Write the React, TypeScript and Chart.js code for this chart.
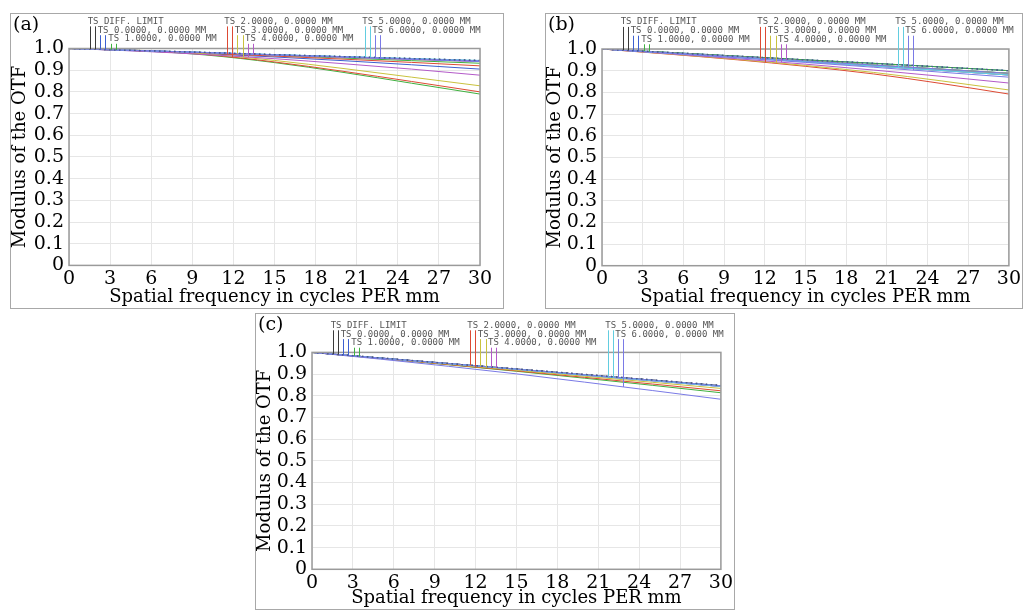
import React, { useEffect, useRef } from "react";
import { Chart, registerables } from "chart.js";

Chart.register(...registerables);

// ---------- data ----------
const FREQS = [0, 5, 10, 15, 20, 25, 30];

const FIELD_LABELS = [
  "TS DIFF. LIMIT",
  "TS 0.0000, 0.0000 MM",
  "TS 1.0000, 0.0000 MM",
  "TS 2.0000, 0.0000 MM",
  "TS 3.0000, 0.0000 MM",
  "TS 4.0000, 0.0000 MM",
  "TS 5.0000, 0.0000 MM",
  "TS 6.0000, 0.0000 MM",
];

const FIELD_COLORS = [
  "#3a3a3a",
  "#3c5fd0",
  "#3fb03f",
  "#dd4a34",
  "#c9c23e",
  "#b35ac8",
  "#62cde0",
  "#7a7ae6",
];

// panel (a) curves (MTF values at FREQS)
const A_945 = [1, 0.991, 0.982, 0.972, 0.963, 0.954, 0.945];
const A_943 = [1, 0.991, 0.981, 0.971, 0.962, 0.952, 0.943];
const A_940 = [1, 0.991, 0.981, 0.970, 0.960, 0.950, 0.940];
const A_932 = [1, 0.990, 0.979, 0.968, 0.956, 0.944, 0.932];
const A_920 = [1, 0.990, 0.978, 0.965, 0.951, 0.936, 0.920];
const A_905 = [1, 0.989, 0.976, 0.961, 0.944, 0.925, 0.905];
const A_877 = [1, 0.988, 0.972, 0.953, 0.930, 0.905, 0.877];
const A_828 = [1, 0.992, 0.975, 0.945, 0.908, 0.868, 0.828];
const A_800 = [1, 0.991, 0.972, 0.938, 0.895, 0.848, 0.800];
const A_790 = [1, 0.990, 0.970, 0.935, 0.890, 0.840, 0.790];

// panel (b) curves
const B_900 = [1, 0.984, 0.967, 0.950, 0.934, 0.917, 0.900];
const B_888 = [1, 0.982, 0.964, 0.945, 0.926, 0.907, 0.888];
const B_880 = [1, 0.981, 0.962, 0.942, 0.922, 0.901, 0.880];
const B_870 = [1, 0.980, 0.959, 0.938, 0.916, 0.893, 0.870];
const B_843 = [1, 0.978, 0.955, 0.930, 0.903, 0.874, 0.843];
const B_811 = [1, 0.977, 0.952, 0.924, 0.892, 0.853, 0.811];
const B_792 = [1, 0.976, 0.950, 0.920, 0.885, 0.841, 0.792];

// panel (c) curves
const C_848 = [1, 0.975, 0.949, 0.924, 0.899, 0.873, 0.848];
const C_846 = [1, 0.974, 0.949, 0.923, 0.897, 0.872, 0.846];
const C_843 = [1, 0.974, 0.948, 0.922, 0.895, 0.869, 0.843];
const C_834 = [1, 0.973, 0.946, 0.918, 0.890, 0.862, 0.834];
const C_823 = [1, 0.972, 0.944, 0.915, 0.885, 0.854, 0.823];
const C_814 = [1, 0.972, 0.943, 0.913, 0.881, 0.848, 0.814];
const C_784 = [1, 0.969, 0.936, 0.901, 0.863, 0.824, 0.784];

// tangential / sagittal per field (diff, 0..6)
const A_T = [A_945, A_943, A_932, A_920, A_940, A_877, A_945, A_943];
const A_S = [A_945, A_905, A_790, A_800, A_828, A_940, A_943, A_940];
const B_T = [B_900, B_888, B_900, B_880, B_888, B_843, B_880, B_888];
const B_S = [B_900, B_900, B_888, B_792, B_811, B_880, B_880, B_870];
const C_T = [C_848, C_846, C_846, C_846, C_846, C_846, C_846, C_846];
const C_S = [C_848, C_843, C_814, C_823, C_834, C_843, C_843, C_784];

const PANEL_LETTERS = ["(a)", "(b)", "(c)"];
const X_TITLE = "Spatial frequency in cycles PER mm";
const Y_TITLE = "Modulus of the OTF";

// ---------- layout ----------
const SERIF = "'DejaVu Serif', serif";
const MONO = "'DejaVu Sans Mono', monospace";

type Box = { left: number; top: number; right: number; bottom: number };

const LABEL_SLOTS = [
  { dx: 18.7, row: 0 },
  { dx: 28.7, row: 1 },
  { dx: 39.3, row: 2 },
  { dx: 155.3, row: 0 },
  { dx: 165.8, row: 1 },
  { dx: 176.0, row: 2 },
  { dx: 293.3, row: 0 },
  { dx: 303.3, row: 1 },
];
const ROW_BASELINE = [-24.6, -15.8, -7.2];

function interp(arr: number[], f: number) {
  if (f <= FREQS[0]) return arr[0];
  for (let k = 1; k < FREQS.length; k++) {
    if (f <= FREQS[k]) {
      const t = (f - FREQS[k - 1]) / (FREQS[k] - FREQS[k - 1]);
      return arr[k - 1] + t * (arr[k] - arr[k - 1]);
    }
  }
  return arr[arr.length - 1];
}

function Panel(props: {
  box: Box;
  plot: Box;
  letter: string;
  T: number[][];
  S: number[][];
}) {
  const ref = useRef<HTMLCanvasElement | null>(null);
  const { box, plot, letter, T, S } = props;
  const W = box.right - box.left;
  const H = box.bottom - box.top;

  useEffect(() => {
    const canvas = ref.current;
    if (!canvas) return;
    const padTop = plot.top - box.top;
    const padRight = box.right - plot.right;
    const yW = plot.left - box.left;
    const xH = box.bottom - plot.bottom;

    const datasets: any[] = [];
    for (let i = FIELD_LABELS.length - 1; i >= 0; i--) {
      [T[i], S[i]].forEach((arr, j) => {
        const isDiff = i === 0;
        datasets.push({
          label: FIELD_LABELS[i] + (j ? " S" : " T"),
          data: FREQS.map((f, k) => ({ x: f, y: arr[k] })),
          borderColor: isDiff ? "#4a5a8a" : FIELD_COLORS[i],
          backgroundColor: FIELD_COLORS[i],
          borderWidth: isDiff ? 1.3 : 1,
          borderDash: isDiff ? [1.5, 3.5] : [],
          order: isDiff ? -1 : 0,
          pointRadius: 0,
          cubicInterpolationMode: "monotone",
          fill: false,
        });
      });
    }

    const framePlugin = {
      id: "frame",
      beforeDraw(chart: any) {
        const c = chart.ctx;
        c.save();
        c.fillStyle = "#fff";
        c.fillRect(0, 0, chart.width, chart.height);
        c.strokeStyle = "#a8a8a8";
        c.lineWidth = 1;
        c.strokeRect(0.5, 0.5, chart.width - 1, chart.height - 1);
        c.restore();
      },
      afterDraw(chart: any) {
        const c = chart.ctx;
        const a = chart.chartArea;
        const xs = chart.scales.x;
        const ys = chart.scales.y;
        c.save();
        c.strokeStyle = "#9a9a9a";
        c.lineWidth = 1.5;
        c.strokeRect(a.left, a.top, a.right - a.left, a.bottom - a.top);
        // panel letter
        c.fillStyle = "#000";
        c.font = "19px " + SERIF;
        c.textBaseline = "alphabetic";
        c.textAlign = "left";
        c.fillText(letter, 3, 17);
        // field labels + markers
        c.font = "9px " + MONO;
        LABEL_SLOTS.forEach((slot, i) => {
          const lx = a.left + slot.dx;
          const by = a.top + ROW_BASELINE[slot.row];
          c.fillStyle = "#555";
          c.fillText(FIELD_LABELS[i], lx, by);
          [T[i], S[i]].forEach((arr, j) => {
            const px = Math.round(lx + 2.5 + j * 5.2) + 0.5;
            const f = xs.getValueForPixel(px);
            const py = ys.getPixelForValue(interp(arr, f));
            c.strokeStyle = FIELD_COLORS[i];
            c.lineWidth = 1;
            c.beginPath();
            c.moveTo(px, by + 2.5);
            c.lineTo(px, py);
            c.stroke();
          });
        });
        c.restore();
      },
    };

    const chart = new Chart(canvas, {
      type: "line",
      data: { datasets },
      options: {
        animation: false,
        responsive: false,
        devicePixelRatio: 1,
        layout: { padding: { top: padTop, right: padRight, left: 0, bottom: 0 } },
        plugins: { legend: { display: false }, tooltip: { enabled: false } },
        scales: {
          x: {
            type: "linear",
            min: 0,
            max: 30,
            ticks: {
              stepSize: 3,
              autoSkip: false,
              maxRotation: 0,
              padding: 2,
              color: "#000",
              font: { family: SERIF, size: 19 },
            },
            grid: { color: "#e6e6e6", drawTicks: false },
            border: { display: false },
            title: {
              display: true,
              text: X_TITLE,
              color: "#000",
              font: { family: SERIF, size: 18 },
              padding: { top: 0, bottom: 1 },
            },
            afterFit: (s: any) => {
              s.height = xH;
            },
          },
          y: {
            type: "linear",
            min: 0,
            max: 1,
            ticks: {
              stepSize: 0.1,
              autoSkip: false,
              padding: 5,
              color: "#000",
              font: { family: SERIF, size: 19 },
              callback: (v: any) => (Math.abs(v) < 1e-9 ? "0" : Number(v).toFixed(1)),
            },
            grid: { color: "#e6e6e6", drawTicks: false },
            border: { display: false },
            title: {
              display: true,
              text: Y_TITLE,
              color: "#000",
              font: { family: SERIF, size: 18 },
              padding: { top: 0, bottom: 0 },
            },
            afterFit: (s: any) => {
              s.width = yW;
            },
          },
        },
      },
      plugins: [framePlugin],
    });
    return () => chart.destroy();
  }, []);

  return (
    <canvas
      ref={ref}
      width={W}
      height={H}
      style={{ position: "absolute", left: box.left, top: box.top, width: W, height: H }}
    />
  );
}

export default function App() {
  return (
    <div style={{ position: "absolute", left: 0, top: 0, width: 1025, height: 612, background: "#fff", overflow: "hidden" }}>
      <Panel
        box={{ left: 10, top: 13, right: 504, bottom: 309 }}
        plot={{ left: 69, top: 48.5, right: 480, bottom: 265.4 }}
        letter={PANEL_LETTERS[0]}
        T={A_T}
        S={A_S}
      />
      <Panel
        box={{ left: 545, top: 13, right: 1023, bottom: 309 }}
        plot={{ left: 602, top: 49, right: 1013, bottom: 265.7 }}
        letter={PANEL_LETTERS[1]}
        T={B_T}
        S={B_S}
      />
      <Panel
        box={{ left: 255, top: 313, right: 735, bottom: 610 }}
        plot={{ left: 312, top: 352.4, right: 722, bottom: 569.3 }}
        letter={PANEL_LETTERS[2]}
        T={C_T}
        S={C_S}
      />
    </div>
  );
}
